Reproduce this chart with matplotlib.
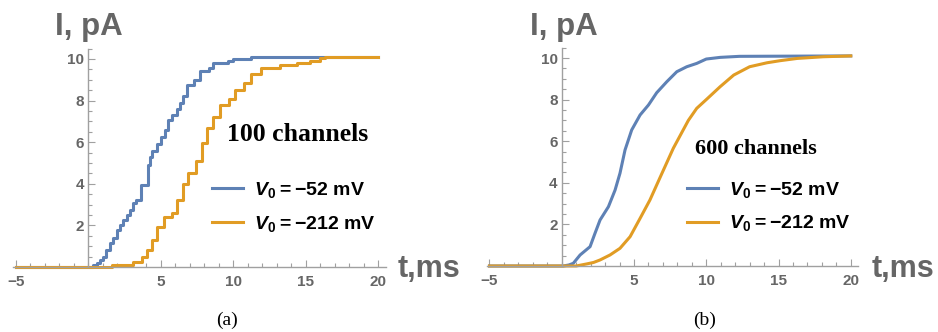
import numpy as np
import matplotlib.pyplot as plt
from matplotlib.ticker import MultipleLocator

plt.rcParams['mathtext.fontset'] = 'custom'
plt.rcParams['mathtext.rm'] = 'Liberation Sans:bold'
plt.rcParams['mathtext.it'] = 'Liberation Sans:italic:bold'
plt.rcParams['mathtext.bf'] = 'Liberation Sans:bold'

# (a) 100 channels, step-like current traces
t_a_blue = [-5, 0.1, 0.3, 0.6, 0.83, 1.0, 1.2, 1.5, 1.7, 2.0, 2.2, 2.4, 2.65, 2.9, 3.1, 3.25,
            3.6, 4.1, 4.25, 4.4, 4.7, 5.0, 5.25, 5.5, 5.8, 6.1, 6.3, 6.5, 6.8, 7.3, 7.7, 8.3,
            8.6, 9.6, 10.0, 11.2, 20]
i_a_blue = [0, 0, 0.1, 0.2, 0.34, 0.5, 0.8, 1.15, 1.4, 1.78, 2.0, 2.26, 2.5, 2.74, 3.1, 3.2,
            3.94, 4.9, 5.3, 5.6, 5.9, 6.25, 6.6, 7.06, 7.3, 7.6, 7.9, 8.2, 8.75, 9.0, 9.4, 9.55,
            9.8, 9.9, 10.0, 10.1, 10.1]
t_a_orange = [-5, 1.6, 3.1, 3.7, 4.05, 4.4, 4.75, 5.2, 5.8, 6.1, 6.5, 6.9, 7.4, 7.85, 8.2, 8.6,
              9.1, 9.7, 10.1, 10.7, 11.2, 11.9, 13.2, 14.4, 15.3, 16.0, 16.3, 20]
i_a_orange = [0, 0.1, 0.25, 0.5, 0.8, 1.3, 1.9, 2.4, 2.6, 3.2, 4.0, 4.5, 5.1, 5.95, 6.7, 7.2,
              7.8, 8.1, 8.5, 8.85, 9.3, 9.55, 9.7, 9.8, 9.9, 10.05, 10.1, 10.1]

# (b) 600 channels
t_b_blue = [-5, 0.1, 0.5, 0.8, 1.27, 1.96, 2.3, 2.65, 3.23, 3.69, 4.03, 4.38, 4.84, 5.42, 6.0,
            6.57, 7.27, 7.96, 8.65, 9.34, 10.0, 10.96, 12.3, 20]
i_b_blue = [0, 0, 0.05, 0.13, 0.53, 0.93, 1.57, 2.21, 2.85, 3.65, 4.46, 5.58, 6.54, 7.26, 7.74,
            8.33, 8.86, 9.34, 9.58, 9.74, 9.95, 10.03, 10.08, 10.1]
t_b_orange = [-5, 1.0, 1.73, 2.2, 2.65, 3.34, 4.03, 4.73, 5.42, 6.1, 6.8, 7.72, 8.76, 9.34,
              10.0, 10.96, 11.9, 13.0, 14.2, 15.1, 16.3, 18.1, 20]
i_b_orange = [0, 0, 0.1, 0.17, 0.29, 0.53, 0.85, 1.41, 2.29, 3.17, 4.25, 5.66, 7.0, 7.58,
              8.0, 8.62, 9.18, 9.58, 9.77, 9.87, 9.98, 10.06, 10.1]

labels = ['$V_0$\u2009=\u2009\u221252 mV', '$V_0$\u2009=\u2009\u2212212 mV']
blue = '#5e81b5'
orange = '#e19c24'
gray = '#666666'
W, H = 938, 332

fig = plt.figure(figsize=(9.38, 3.32), dpi=100)


def setup(ax):
    ax.set_xlim(-5.2, 20.5)
    ax.set_ylim(0, 10.5)
    ax.spines['left'].set_position(('data', 0))
    ax.spines['bottom'].set_position(('data', 0))
    ax.spines['top'].set_visible(False)
    ax.spines['right'].set_visible(False)
    for s in ['left', 'bottom']:
        ax.spines[s].set_color('#a0a0a0')
        ax.spines[s].set_linewidth(1)
    ax.set_xticks([-5, 5, 10, 15, 20])
    ax.set_yticks([2, 4, 6, 8, 10])
    ax.xaxis.set_minor_locator(MultipleLocator(1))
    ax.yaxis.set_minor_locator(MultipleLocator(0.5))
    ax.tick_params(which='both', direction='in', color='#a0a0a0', width=0.8)
    ax.tick_params(which='major', length=5)
    ax.tick_params(which='minor', length=3)
    ax.tick_params(axis='x', pad=6)
    ax.tick_params(axis='y', pad=3)
    ax.set_xticklabels(['\u22125', '5', '10', '15', '20'])
    for lab in ax.get_xticklabels() + ax.get_yticklabels():
        lab.set_fontfamily('Liberation Sans')
        lab.set_fontweight('bold')
        lab.set_fontsize(11)
        lab.set_color(gray)
    ax.patch.set_visible(False)


def fx(px):
    return px / W


def fy(py):
    return 1 - py / H


legend_kw = dict(loc='center left', bbox_transform=fig.transFigure, frameon=False, borderpad=0,
                 borderaxespad=0, handlelength=1.6, handletextpad=0.55, labelspacing=0.7,
                 prop={'family': 'Liberation Sans', 'weight': 'bold', 'size': 14})

# panel (a)
ax1 = fig.add_axes([13 / W, 65 / H, 372.6 / W, 218.4 / H])
setup(ax1)
ax1.plot(t_a_blue, i_a_blue, color=blue, lw=2.2, drawstyle='steps-post', clip_on=False, label=labels[0])
ax1.plot(t_a_orange, i_a_orange, color=orange, lw=2.2, drawstyle='steps-post', clip_on=False, label=labels[1])
ax1.legend(bbox_to_anchor=(fx(212), fy(207)), **legend_kw)
fig.text(fx(227), fy(135), '100 channels', family='Liberation Serif', weight='bold', size=18.5,
         va='center', ha='left')
fig.text(fx(55), fy(35), 'I, pA', family='Liberation Sans', weight='bold', size=22.5, color=gray,
         va='baseline', ha='left')
fig.text(fx(398), fy(277), 't,ms', family='Liberation Sans', weight='bold', size=22, color=gray,
         va='baseline', ha='left')
fig.text(fx(227), fy(320), '(a)', family='Liberation Serif', size=14, va='center', ha='center')

# panel (b)
ax2 = fig.add_axes([486.6 / W, 66 / H, 371.4 / W, 218.4 / H])
setup(ax2)
ax2.plot(t_b_blue, i_b_blue, color=blue, lw=2.2, clip_on=False, label=labels[0])
ax2.plot(t_b_orange, i_b_orange, color=orange, lw=2.2, clip_on=False, label=labels[1])
ax2.legend(bbox_to_anchor=(fx(687), fy(206.5)), **legend_kw)
fig.text(fx(695), fy(149), '600 channels', family='Liberation Serif', weight='bold', size=16,
         va='center', ha='left')
fig.text(fx(530), fy(35), 'I, pA', family='Liberation Sans', weight='bold', size=22.5, color=gray,
         va='baseline', ha='left')
fig.text(fx(872), fy(277), 't,ms', family='Liberation Sans', weight='bold', size=22, color=gray,
         va='baseline', ha='left')
fig.text(fx(705), fy(320), '(b)', family='Liberation Serif', size=14, va='center', ha='center')

fig.savefig('out.png', dpi=100)
